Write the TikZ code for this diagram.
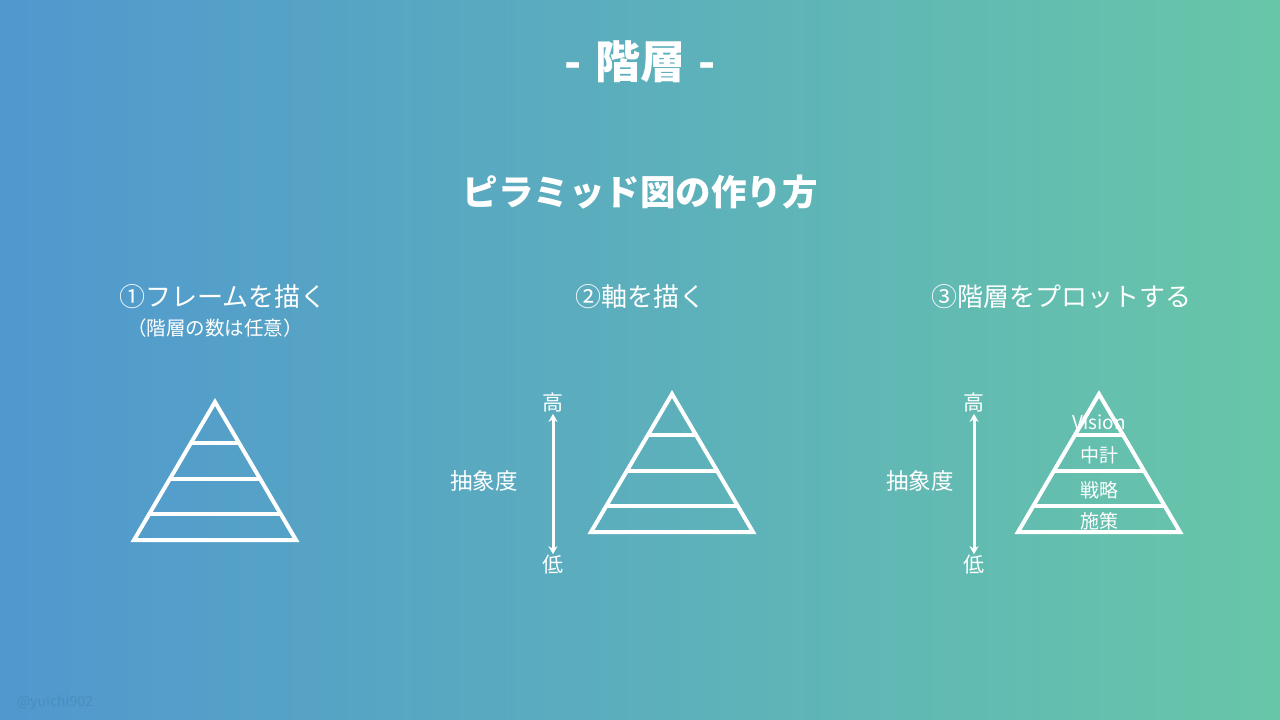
\documentclass[tikz,border=0pt]{standalone}
\usepackage{fontspec}
\setmainfont{Noto Sans CJK JP}
\usepackage{tikz}
\usetikzlibrary{calc,arrows.meta}
\definecolor{bgleft}{RGB}{80,152,207}
\definecolor{bgright}{RGB}{104,198,168}
\begin{document}
\begin{tikzpicture}[x=1pt,y=-1pt,
        txt/.style = {text=white, inner sep=0pt},
        frame/.style = {draw=white, line width=4pt, line join=miter},
        axis/.style = {draw=white, line width=3pt, {Stealth[length=8pt,width=9pt]}-{Stealth[length=8pt,width=9pt]}}]
        \fill[left color=bgleft, right color=bgright] (0,0) rectangle (1280,720);
        \useasboundingbox (0,0) rectangle (1280,720);
        % titles
        \node[txt, font=\bfseries\fontsize{45}{48}\selectfont] (title) at (640,62) {-\hspace{0.3em}階層\hspace{0.3em}-};
        \node[txt, font=\bfseries\fontsize{35.5}{38}\selectfont] (sub) at (640,192) {ピラミッド図の作り方};
        \node[txt, font=\fontsize{26}{28}\selectfont] (h1) at (223,297) {①フレームを描く};
        \node[txt, font=\fontsize{19.5}{21}\selectfont] (h1b) at (215,328) {（階層の数は任意）};
        \node[txt, font=\fontsize{26}{28}\selectfont] (h2) at (640,297) {②軸を描く};
        \node[txt, font=\fontsize{26}{28}\selectfont] (h3) at (1061,297) {③階層をプロットする};
        % pyramids
        \foreach \px/\py/\nm in {215/402/one, 672/394/two, 1099/394/three} {
          \coordinate (apex\nm) at (\px,\py);
          \coordinate (bl\nm) at ($(\px,\py)+(-81,138)$);
          \coordinate (br\nm) at ($(\px,\py)+(81,138)$);
          \draw[frame] (apex\nm) -- (bl\nm) -- (br\nm) -- cycle;
          \foreach \t in {0.3,0.555,0.808}
            \draw[frame] ($(apex\nm)!\t!(bl\nm)$) -- ($(apex\nm)!\t!(br\nm)$);
        }
        % axes
        \foreach \ax/\gap/\nm in {553/35/two, 974/20/three} {
          \node[txt, font=\fontsize{21}{22}\selectfont] (hi\nm) at (\ax,403) {高};
          \node[txt, font=\fontsize{21}{22}\selectfont] (lo\nm) at (\ax,565) {低};
          \node[txt, font=\fontsize{22.5}{24}\selectfont, anchor=east] (abs\nm) at ($(\ax,481)+(-\gap,0)$) {抽象度};
          \draw[axis] ([yshift=-1pt]hi\nm.south) -- ([yshift=1pt]lo\nm.north);
        }
        % levels
        \node[txt, font=\fontsize{19}{20}\selectfont] (vision) at (1099,422) {Vision};
        \node[txt, font=\fontsize{19}{20}\selectfont] (mid) at (1099,455) {中計};
        \node[txt, font=\fontsize{19}{20}\selectfont] (strat) at (1099,490) {戦略};
        \node[txt, font=\fontsize{19}{20}\selectfont] (meas) at (1099,521) {施策};
        % credit
        \node[text=black, opacity=0.08, font=\fontsize{14}{15}\selectfont, inner sep=0pt] (credit) at (55,703) {@yuichi902};
\end{tikzpicture}
\end{document}
